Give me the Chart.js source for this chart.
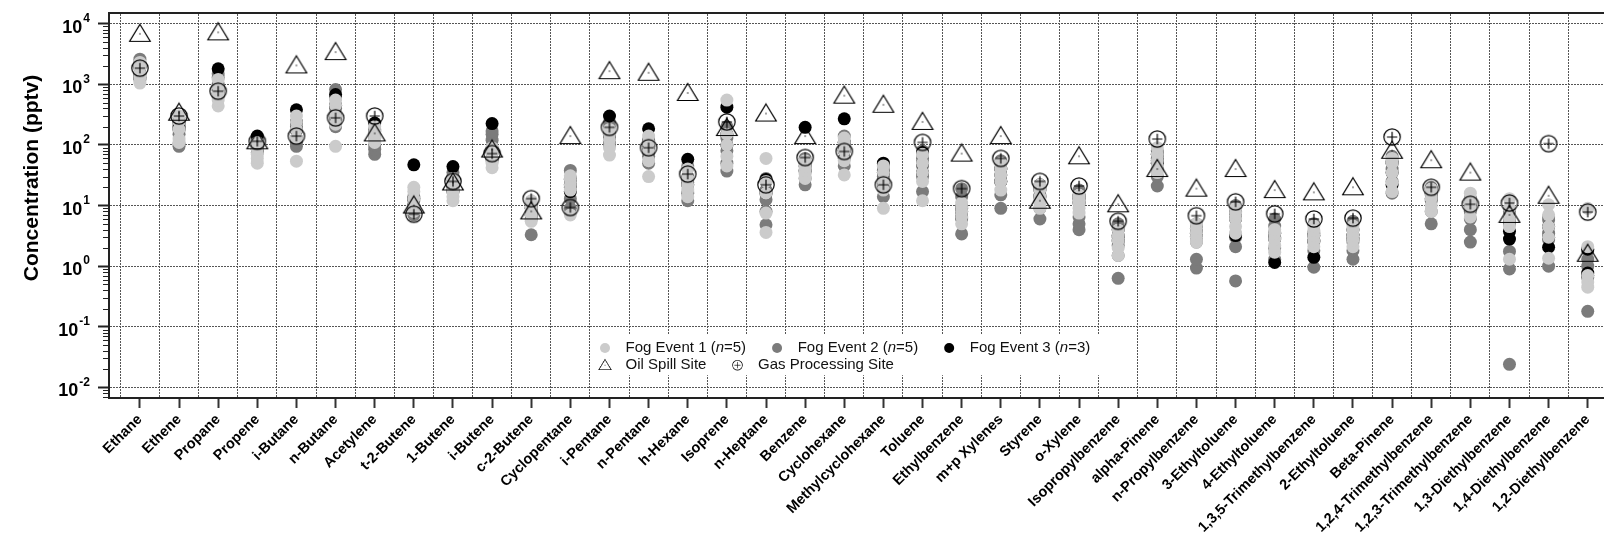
<!DOCTYPE html>
<html>
<head>
<meta charset="utf-8">
<script src="https://cdn.jsdelivr.net/npm/chart.js@4.4.1/dist/chart.umd.min.js"></script>
<style>
  html, body { margin: 0; padding: 0; background: #fff; }
  #wrap { width: 1612px; height: 538px; }
</style>
</head>
<body>
<div id="wrap"><canvas id="vocChart"></canvas></div>
<script>
// --- data (pptv) ---
const categories = ['Ethane', 'Ethene', 'Propane', 'Propene', 'i-Butane', 'n-Butane', 'Acetylene',
  't-2-Butene', '1-Butene', 'i-Butene', 'c-2-Butene', 'Cyclopentane', 'i-Pentane', 'n-Pentane',
  'h-Hexane', 'Isoprene', 'n-Heptane', 'Benzene', 'Cyclohexane', 'Methylcyclohexane', 'Toluene',
  'Ethylbenzene', 'm+p Xylenes', 'Styrene', 'o-Xylene', 'Isopropylbenzene', 'alpha-Pinene',
  'n-Propylbenzene', '3-Ethyltoluene', '4-Ethyltoluene', '1,3,5-Trimethylbenzene', '2-Ethyltoluene',
  'Beta-Pinene', '1,2,4-Trimethylbenzene', '1,2,3-Trimethylbenzene', '1,3-Diethylbenzene',
  '1,4-Diethylbenzene', '1,2-Diethylbenzene'];

const fogEvent1 = [
  [1050, 1300, 1500, 1900, 2300], [110, 125, 180, 240, 300], [440, 550, 700, 900, 1200],
  [50, 60, 70, 85, 110], [54, 130, 180, 240, 300], [95, 220, 300, 450, 550],
  [110, 130, 150, 170, 200], [8, 10, 13, 17, 20], [12, 14, 17, 21, 28],
  [42, 50, 60, 75, 90], [5.5, 7, 9, 10, 12], [7, 18, 22, 27, 31],
  [68, 90, 120, 150, 180], [30, 55, 80, 110, 140], [14, 18, 22, 28, 40],
  [45, 65, 100, 150, 550], [3.6, 7.5, 16, 25, 60], [28, 33, 38, 45, 55],
  [32, 55, 80, 110, 130], [9, 18, 25, 35, 45], [12, 25, 35, 50, 70],
  [5, 6.5, 8, 9.5, 11], [18, 25, 32, 40, 50], [9, 11, 14, 18, 22],
  [7.5, 9, 11, 13, 15], [1.5, 2, 2.6, 3.2, 4], [35, 45, 55, 70, 90],
  [2.5, 3, 3.5, 4.2, 5], [3.5, 4.5, 6, 7.5, 9], [1.7, 2.2, 2.8, 3.5, 4],
  [2.1, 2.6, 3.2, 3.9, 4.6], [2.1, 2.7, 3.3, 4, 4.6], [17, 24, 35, 50, 60],
  [8, 10, 13, 16, 19], [6.5, 9, 11, 13, 16], [1.3, 4.5, 6, 9, 13],
  [1.35, 3, 4.5, 7, 10.3], [0.45, 0.55, 0.7, 2.1, 9]
];

const fogEvent2 = [
  [1200, 1600, 2000, 2300, 2600], [95, 105, 150, 220, 280], [650, 800, 1000, 1300, 1500],
  [75, 90, 100, 120, 130], [95, 110, 130, 170, 200], [200, 260, 400, 600, 820],
  [70, 85, 100, 130, 180], [7, 8.5, 10, 12, 14], [18, 22, 26, 30, 35],
  [55, 90, 120, 150, 170], [3.3, 6, 8, 9.5, 11], [9, 13, 20, 28, 38],
  [100, 130, 160, 200, 240], [50, 65, 80, 95, 120], [12, 16, 24, 30, 45],
  [37, 50, 80, 130, 200], [4.8, 8, 12.5, 18, 28], [22, 28, 36, 50, 60],
  [45, 60, 90, 110, 140], [14, 20, 30, 38, 45], [17, 30, 45, 60, 80],
  [3.4, 6, 9, 14, 19], [9, 15, 25, 40, 55], [6, 9, 12, 15, 20],
  [4, 5, 6.5, 14, 18], [0.63, 1.5, 2.2, 3, 5], [21, 30, 40, 60, 80],
  [0.93, 1.3, 2.5, 3.5, 5], [0.57, 2.1, 3, 8, 10], [1.3, 2, 3, 4.6, 6],
  [0.96, 1.8, 2.5, 3.5, 5], [1.3, 1.8, 2.5, 3.3, 5.5], [16, 25, 40, 55, 65],
  [5, 8, 12, 15, 20], [2.5, 4, 6, 8, 10], [0.024, 0.9, 1.75, 5, 8],
  [1.0, 2.7, 3.5, 5.8, 6.5], [0.18, 0.65, 1.0, 1.3, 1.8]
];

const fogEvent3 = [
  [1300, 1500, 1900], [180, 200, 240], [700, 900, 1800], [85, 110, 140],
  [180, 240, 380], [300, 450, 680], [150, 170, 230], [10, 13, 47],
  [17, 21, 44], [60, 75, 225], [7, 9, 10], [17, 22, 27],
  [120, 150, 300], [80, 110, 185], [22, 28, 58], [100, 150, 420],
  [16, 25, 27], [38, 45, 195], [80, 110, 270], [25, 35, 50],
  [35, 50, 75], [6.5, 8, 9.5], [25, 32, 40], [14, 18, 22],
  [11, 13, 15], [2.6, 3.2, 4], [50, 55, 70], [3.1, 3.5, 4.2],
  [3.2, 6, 7.5], [1.15, 2.8, 3.5], [1.4, 2.6, 3.2], [2.8, 3.3, 4],
  [22, 35, 50], [13, 16, 19], [9, 11, 13], [2.8, 3.75, 6],
  [2.05, 3, 4.5], [0.7, 0.77, 1.9]
];

const oilSpill = [6800, 340, 7200, 115, 2050, 3400, 155, 10, 24, 84, 8, 140, 1650, 1550, 720,
  190, 330, 140, 650, 460, 240, 72, 140, 12, 65, 10.5, 40, 19, 40, 18, 16.5, 20, 80, 56, 35,
  7, 14.5, 1.6];

const gasProcessing = [1850, 300, 770, 115, 140, 280, 300, 7.2, 25, 72, 13, 9.3, 195, 90, 33,
  240, 22, 62, 78, 22, 110, 19, 60, 25, 21, 5.5, 125, 6.8, 11.5, 7.3, 6, 6.2, 135, 20, 10.5,
  11, 105, 7.8];

const yTickValues = [0.01, 0.1, 1, 10, 100, 1000, 10000];

// --- helpers ---
const FONT = "'Liberation Sans', Arial, Helvetica, sans-serif";

function toPoints(rows) {
  const pts = [];
  rows.forEach((vals, i) => vals.forEach(v => pts.push({ x: i, y: v })));
  return pts;
}
function toSingle(vals) {
  return vals.map((v, i) => ({ x: i, y: v }));
}

// open triangle with a dot in the middle
function makeTriangle() {
  const c = document.createElement('canvas');
  c.width = 24; c.height = 24;
  const g = c.getContext('2d');
  g.strokeStyle = '#000';
  g.lineWidth = 1.2;
  g.beginPath();
  g.moveTo(12, 2.5);
  g.lineTo(22.3, 19.5);
  g.lineTo(1.7, 19.5);
  g.closePath();
  g.stroke();
  g.fillStyle = '#000';
  g.fillRect(11.4, 11.4, 1.2, 1.2);
  return c;
}

// open circle with a cross
function makeCirclePlus() {
  const c = document.createElement('canvas');
  c.width = 20; c.height = 20;
  const g = c.getContext('2d');
  g.strokeStyle = '#000';
  g.lineWidth = 1.2;
  g.beginPath();
  g.arc(10, 10, 8.2, 0, Math.PI * 2);
  g.stroke();
  g.beginPath();
  g.moveTo(10, 4.8); g.lineTo(10, 15.2);
  g.moveTo(4.8, 10); g.lineTo(15.2, 10);
  g.stroke();
  return c;
}

const triangleMark = makeTriangle();
const circlePlusMark = makeCirclePlus();

// y labels as 10^n, minor ticks, axis title
const axisDecor = {
  id: 'axisDecor',
  afterDraw(chart) {
    const { ctx, chartArea, scales: { y } } = chart;
    ctx.save();
    ctx.strokeStyle = '#222';
    ctx.lineWidth = 1;
    for (let k = -3; k <= 4; k++) {
      for (let m = 2; m <= 9; m++) {
        const v = m * Math.pow(10, k);
        if (v < y.min || v > y.max) continue;
        const py = Math.round(y.getPixelForValue(v)) + 0.5;
        ctx.beginPath();
        ctx.moveTo(chartArea.left - 6, py);
        ctx.lineTo(chartArea.left, py);
        ctx.stroke();
      }
    }

    ctx.fillStyle = '#000';
    ctx.textBaseline = 'middle';
    ctx.textAlign = 'right';
    const right = chartArea.left - 19;
    y.ticks.forEach(t => {
      const py = y.getPixelForValue(t.value);
      const exp = String(Math.round(Math.log10(t.value)));
      ctx.font = 'bold 12px ' + FONT;
      const ew = ctx.measureText(exp).width;
      ctx.fillText(exp, right, py - 5);
      ctx.font = 'bold 18px ' + FONT;
      ctx.fillText('10', right - ew - 1, py + 4);
    });

    ctx.translate(38, 178);
    ctx.rotate(-Math.PI / 2);
    ctx.textAlign = 'center';
    ctx.textBaseline = 'alphabetic';
    ctx.font = 'bold 21px ' + FONT;
    ctx.fillText('Concentration (pptv)', 0, 0);
    ctx.restore();
  }
};

// legend inside the plot with a white box, italic n
const legendBox = {
  id: 'legendBox',
  afterDatasetsDraw(chart) {
    const { ctx, chartArea } = chart;
    const sets = chart.data.datasets;
    const rows = [[0, 1, 2], [3, 4]];
    const x0 = chartArea.left + 496;
    const y0 = chartArea.top + 335;
    const rowH = 17.2;
    const gap = 31;
    const normal = '15px ' + FONT;
    const italic = 'italic 15px ' + FONT;

    const parts = label => {
      const m = label.match(/^(.*\()n(=.*)$/);
      return m ? [[m[1], normal], ['n', italic], [m[2], normal]] : [[label, normal]];
    };
    const textWidth = label => parts(label).reduce((w, p) => {
      ctx.font = p[1];
      return w + ctx.measureText(p[0]).width;
    }, 0);

    // layout
    const items = [];
    let maxRight = 0;
    rows.forEach((row, r) => {
      let x = x0;
      row.forEach(di => {
        const tw = textWidth(sets[di].label);
        items.push({ di, x, y: y0 + r * rowH });
        x += 20.6 + tw;
        maxRight = Math.max(maxRight, x);
        x += gap;
      });
    });

    ctx.save();
    ctx.fillStyle = '#fff';
    ctx.fillRect(x0 - 15, y0 - 13, maxRight + 10 - (x0 - 15), rowH + 23);

    items.forEach(it => {
      const ds = sets[it.di];
      if (ds.pointStyle === 'circle') {
        ctx.fillStyle = ds.pointBackgroundColor;
        ctx.beginPath();
        ctx.arc(it.x, it.y, 5, 0, Math.PI * 2);
        ctx.fill();
      } else {
        const img = ds.pointStyle;
        const s = 0.6;
        ctx.drawImage(img, it.x - img.width * s / 2, it.y - img.height * s / 2, img.width * s, img.height * s);
      }
      let tx = it.x + 20.6;
      ctx.fillStyle = '#111';
      ctx.textBaseline = 'middle';
      ctx.textAlign = 'left';
      parts(ds.label).forEach(p => {
        ctx.font = p[1];
        ctx.fillText(p[0], tx, it.y);
        tx += ctx.measureText(p[0]).width;
      });
    });
    ctx.restore();
  }
};

// --- chart ---
Chart.defaults.font.family = FONT;
Chart.defaults.color = '#000';

const xMin = -0.79, xMax = 37.39;

new Chart(document.getElementById('vocChart'), {
  type: 'scatter',
  data: {
    datasets: [
      { label: 'Fog Event 1 (n=5)', data: toPoints(fogEvent1), pointStyle: 'circle', pointRadius: 6.5,
        pointBackgroundColor: '#cbcbcb', pointBorderWidth: 0, order: 2 },
      { label: 'Fog Event 2 (n=5)', data: toPoints(fogEvent2), pointStyle: 'circle', pointRadius: 6.5,
        pointBackgroundColor: '#7b7b7b', pointBorderWidth: 0, order: 4 },
      { label: 'Fog Event 3 (n=3)', data: toPoints(fogEvent3), pointStyle: 'circle', pointRadius: 6.5,
        pointBackgroundColor: '#000000', pointBorderWidth: 0, order: 3 },
      { label: 'Oil Spill Site', data: toSingle(oilSpill), pointStyle: triangleMark, pointRadius: 8, order: 1 },
      { label: 'Gas Processing Site', data: toSingle(gasProcessing), pointStyle: circlePlusMark, pointRadius: 8, order: 0 }
    ]
  },
  options: {
    responsive: true,
    maintainAspectRatio: false,
    animation: false,
    devicePixelRatio: 1,
    layout: { padding: { top: 13, left: 0, right: 0, bottom: 0 } },
    plugins: { legend: { display: false }, tooltip: { enabled: false } },
    scales: {
      x: {
        type: 'linear', position: 'bottom', min: xMin, max: xMax,
        afterBuildTicks: s => { s.ticks = categories.map((_, i) => ({ value: i })); },
        afterFit: s => { s.height = 140; },
        ticks: {
          autoSkip: false, minRotation: 45, maxRotation: 45, padding: 3, color: '#000',
          font: { size: 14.5, weight: 'bold' },
          callback: v => categories[v]
        },
        grid: { drawOnChartArea: false, drawTicks: true, tickLength: 10, tickWidth: 2, tickColor: '#333' },
        border: { display: true, color: '#222', width: 2 }
      },
      xGrid: {
        type: 'linear', position: 'top', min: xMin, max: xMax,
        afterBuildTicks: s => {
          const t = [];
          for (let i = 0; i < categories.length; i++) {
            if (i - 0.5 >= xMin && i - 0.5 <= xMax) t.push({ value: i - 0.5 });
          }
          s.ticks = t;
        },
        afterFit: s => { s.height = 0; },
        ticks: { display: false },
        grid: { drawTicks: false, color: '#555', lineWidth: 1 },
        border: { display: true, color: '#222', width: 2, dash: [2, 1] }
      },
      y: {
        type: 'logarithmic', position: 'left', min: 0.00668, max: 15020,
        afterBuildTicks: s => { s.ticks = yTickValues.map(v => ({ value: v })); },
        afterFit: s => { s.width = 109; },
        ticks: { display: false },
        grid: { color: '#555', lineWidth: 1, drawTicks: true, tickLength: 11, tickWidth: 2, tickColor: '#222' },
        border: { display: true, color: '#222', width: 2, dash: [2, 1] }
      }
    }
  },
  plugins: [axisDecor, legendBox]
});
</script>
</body>
</html>
